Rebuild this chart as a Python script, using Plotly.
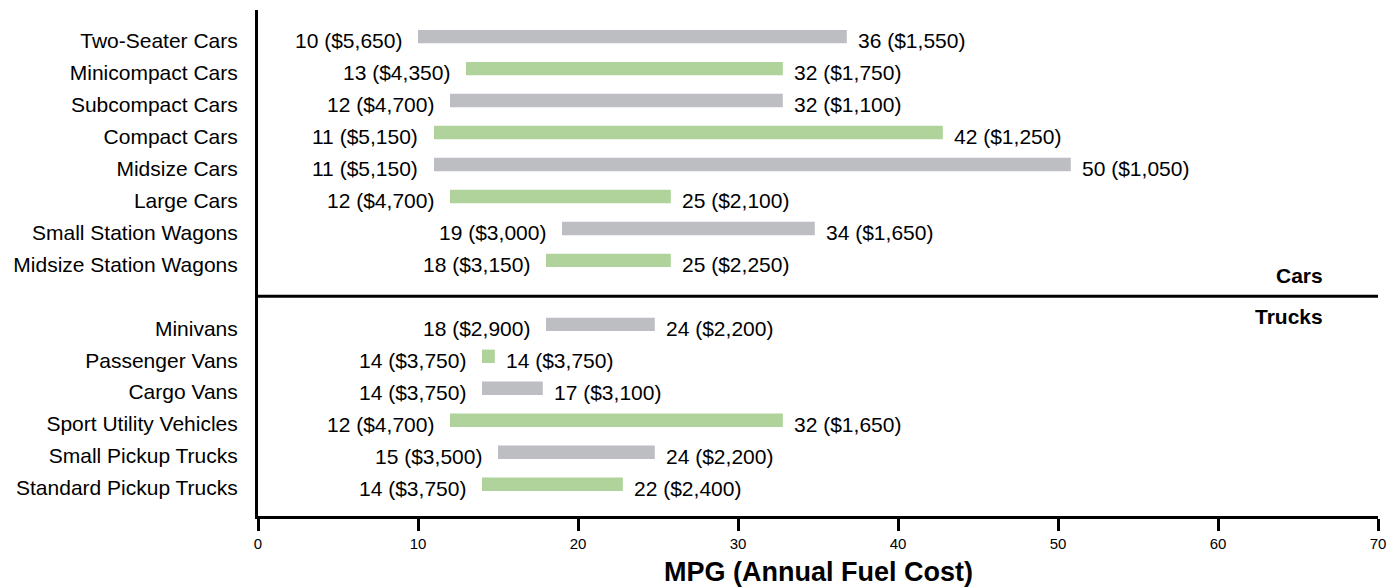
import plotly.graph_objects as go

# ---- data ----
car_categories = ["Two-Seater Cars", "Minicompact Cars", "Subcompact Cars", "Compact Cars",
                  "Midsize Cars", "Large Cars", "Small Station Wagons", "Midsize Station Wagons"]
car_low_mpg = [10, 13, 12, 11, 11, 12, 19, 18]
car_low_cost = [5650, 4350, 4700, 5150, 5150, 4700, 3000, 3150]
car_high_mpg = [36, 32, 32, 42, 50, 25, 34, 25]
car_high_cost = [1550, 1750, 1100, 1250, 1050, 2100, 1650, 2250]

truck_categories = ["Minivans", "Passenger Vans", "Cargo Vans", "Sport Utility Vehicles",
                    "Small Pickup Trucks", "Standard Pickup Trucks"]
truck_low_mpg = [18, 14, 14, 12, 15, 14]
truck_low_cost = [2900, 3750, 3750, 4700, 3500, 3750]
truck_high_mpg = [24, 14, 17, 32, 24, 22]
truck_high_cost = [2200, 3750, 3100, 1650, 2200, 2400]

x_ticks = [0, 10, 20, 30, 40, 50, 60, 70]
group_labels = ["Cars", "Trucks"]
x_title = "MPG (Annual Fuel Cost)"

# ---- style ----
FONT = "Arial, 'Liberation Sans', sans-serif"
GREY = "#bdbec2"
GREEN = "#afd39a"
BAR_END_PAD = 0.8      # bars in the original run a little past the high value
BAR_W = 0.42
BAR_SHIFT = -0.12      # bars sit slightly above the category centre
LABEL_SIZE = 21

def fmt(mpg, cost):
    return f"{mpg} (${cost:,})"

# rows: cars 0..7, gap at 8, trucks 9..14
rows = []
for i, c in enumerate(car_categories):
    rows.append((i, c, car_low_mpg[i], car_low_cost[i], car_high_mpg[i], car_high_cost[i], i % 2))
gap_row = len(car_categories)
for j, c in enumerate(truck_categories):
    rows.append((gap_row + 1 + j, c, truck_low_mpg[j], truck_low_cost[j], truck_high_mpg[j], truck_high_cost[j], j % 2))

fig = go.Figure()
for alt, color in [(0, GREY), (1, GREEN)]:
    sel = [r for r in rows if r[6] == alt]
    fig.add_trace(go.Bar(
        orientation="h",
        y=[r[0] for r in sel],
        base=[r[2] for r in sel],
        x=[r[4] - r[2] + BAR_END_PAD for r in sel],
        width=BAR_W,
        offset=BAR_SHIFT - BAR_W / 2,
        marker=dict(color=color, line=dict(width=0)),
        showlegend=False,
        hoverinfo="skip",
    ))

annotations = []
for pos, cat, lm, lc, hm, hc, alt in rows:
    annotations.append(dict(x=lm, y=pos, xref="x", yref="y", text=fmt(lm, lc),
                            xanchor="right", yanchor="middle", xshift=-14, showarrow=False,
                            font=dict(family=FONT, size=LABEL_SIZE, color="#000")))
    annotations.append(dict(x=hm + BAR_END_PAD, y=pos, xref="x", yref="y", text=fmt(hm, hc),
                            xanchor="left", yanchor="middle", xshift=9, showarrow=False,
                            font=dict(family=FONT, size=LABEL_SIZE, color="#000")))

annotations.append(dict(x=66.7, y=gap_row, xref="x", yref="y", text="<b>%s</b>" % group_labels[0],
                        xanchor="right", yanchor="middle", yshift=21, showarrow=False,
                        font=dict(family=FONT, size=21, color="#000")))
annotations.append(dict(x=66.7, y=gap_row, xref="x", yref="y", text="<b>%s</b>" % group_labels[1],
                        xanchor="right", yanchor="middle", yshift=-20, showarrow=False,
                        font=dict(family=FONT, size=21, color="#000")))
annotations.append(dict(x=0.5, y=0, xref="paper", yref="paper", text="<b>%s</b>" % x_title,
                        xanchor="center", yanchor="middle", yshift=-56, showarrow=False,
                        font=dict(family=FONT, size=27, color="#000")))

fig.update_layout(
    width=1400, height=588,
    margin=dict(l=258, r=22, t=10, b=72),
    paper_bgcolor="white", plot_bgcolor="white",
    barmode="overlay",
    annotations=annotations,
    shapes=[dict(type="line", xref="paper", yref="y", x0=0, x1=1, y0=gap_row, y1=gap_row,
                 line=dict(color="#000", width=3))],
    font=dict(family=FONT, color="#000"),
)
fig.update_xaxes(range=[0, 70], tickvals=x_ticks, showgrid=False, zeroline=False,
                 showline=True, linecolor="#000", linewidth=3,
                 ticks="outside", ticklen=12, tickwidth=3, tickcolor="#000",
                 tickfont=dict(family=FONT, size=15, color="#000"))
fig.update_yaxes(range=[14.875, -0.953],
                 tickvals=[r[0] for r in rows], ticktext=[r[1] for r in rows],
                 showgrid=False, zeroline=False, showline=True, linecolor="#000", linewidth=3,
                 ticks="outside", ticklen=13, tickcolor="rgba(0,0,0,0)",
                 tickfont=dict(family=FONT, size=LABEL_SIZE, color="#000"))

fig.write_html("out.html", config={"displayModeBar": False},
               post_script="document.body.style.margin='0';document.body.style.overflow='hidden';")
